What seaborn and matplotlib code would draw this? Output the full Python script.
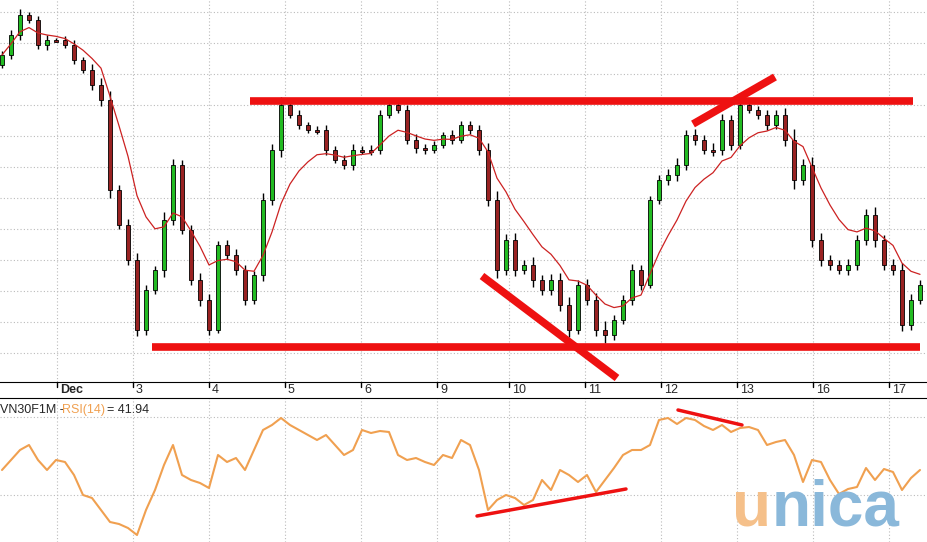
import matplotlib.pyplot as plt
import seaborn as sns
import numpy as np
import pandas as pd

# values in pixel rows (smaller = higher price)
closes = [55, 35, 15, 20, 45, 40, 40, 45, 60, 70, 85, 100, 190, 225, 260, 330, 290, 270, 220, 165,
          230, 280, 300, 330, 245, 255, 270, 300, 275, 200, 150, 105, 115, 125, 130, 130, 150, 160, 165, 150,
          150, 150, 115, 105, 110, 140, 148, 150, 145, 135, 140, 125, 130, 150, 200, 270, 240, 270, 265, 280,
          290, 280, 305, 330, 285, 300, 330, 335, 320, 300, 270, 285, 200, 180, 175, 165, 135, 140, 150, 150,
          120, 145, 105, 110, 115, 125, 115, 140, 180, 165, 240, 260, 265, 270, 265, 240, 215, 240, 265, 270,
          325, 300, 285]
wicks = [6, 8, 10, 5, 7, 9, 4, 6, 8, 5, 10, 12, 15, 8, 10, 12, 9, 7, 14, 10,
         8, 9, 12, 10, 6, 8, 10, 9, 7, 12, 10, 14, 6, 8, 5, 7, 9, 6, 8, 10,
         7, 9, 8, 6, 5, 8, 10, 7, 6, 5, 8, 6, 7, 9, 12, 15, 10, 12, 8, 14,
         9, 10, 12, 14, 8, 10, 12, 15, 9, 8, 10, 9, 6, 8, 10, 12, 9, 10, 8, 12,
         10, 9, 8, 6, 7, 9, 8, 12, 18, 10, 14, 12, 9, 8, 10, 9, 10, 14, 9, 10,
         12, 10, 8]
rsi = [470, 460, 450, 445, 460, 470, 460, 462, 475, 495, 498, 510, 522, 524, 528, 535, 510, 490, 465, 445,
       475, 480, 483, 488, 455, 462, 458, 470, 450, 430, 425, 418, 425, 430, 435, 440, 435, 445, 455, 450,
       430, 433, 431, 432, 455, 460, 458, 462, 465, 455, 458, 440, 445, 470, 510, 500, 495, 498, 505, 500,
       480, 490, 470, 475, 482, 475, 492, 480, 468, 455, 450, 450, 445, 420, 418, 424, 418, 420, 426, 430,
       425, 432, 428, 427, 430, 445, 442, 440, 455, 482, 460, 462, 480, 494, 489, 487, 468, 480, 469, 472,
       490, 478, 470]
day_labels = ["Dec", "3", "4", "5", "6", "9", "10", "11", "12", "13", "16", "17"]
day_pos = [57, 133, 209, 285, 361, 437, 509, 585, 661, 737, 813, 889]
sup_res = [((250, 101), (913, 101)), ((152, 347), (920, 347)),
           ((482, 276), (617, 378)), ((693, 124), (775, 77))]
rsi_lines = [((477, 516), (626, 489)), ((678, 410), (742, 425))]

sns.set_style("white")
plt.rcParams['font.family'] = ['Liberation Sans', 'DejaVu Sans']
fig = plt.figure(figsize=(9.27, 5.42), dpi=100)
H = 542.0
ax = fig.add_axes([0, 1 - 382 / H, 1, 382 / H])
ax2 = fig.add_axes([0, 0, 1, 144 / H])

x = 2 + 9 * np.arange(len(closes))
c = np.array(closes, float)
o = np.r_[c[0] + 10, c[:-1]]
w = np.array(wicks, float)
top = np.minimum(o, c) - w * 0.6
bot = np.maximum(o, c) + w * 0.5
ax.vlines(x, top, bot, color="black", lw=1, zorder=2)
up = c < o
cols = np.where(up, "#22bb22", "#992222")
hgt = np.where(np.abs(c - o) < 2, 2, np.abs(c - o))
ax.bar(x, hgt, bottom=np.minimum(o, c), width=4.5, color=cols, edgecolor="black", lw=0.6, zorder=3)

df = pd.DataFrame({"x": x, "ma": pd.Series(c).ewm(span=8).mean(), "rsi": rsi})
sns.lineplot(data=df, x="x", y="ma", ax=ax, color="#cc2222", lw=0.9, zorder=4)
for (a, b) in sup_res:
    ax.plot([a[0], b[0]], [a[1], b[1]], color="#ee1111", lw=5.5, solid_capstyle="butt", zorder=5)

ax.set_xlim(0, 927)
ax.set_ylim(382, 0)
ax.set_yticks(np.arange(12, 382, 31))
ax.set_xticks(day_pos)
ax.set_xticklabels([])
ax.grid(True, color="#bbbbbb", ls=(0, (1, 2)), lw=0.8)
ax.set_xlabel("")
ax.set_ylabel("")
ax.tick_params(left=False, labelleft=False)
for s in ["left", "right", "top"]:
    ax.spines[s].set_visible(False)
ax.spines["bottom"].set_color("black")

sns.lineplot(data=df, x="x", y="rsi", ax=ax2, color="#f0a050", lw=1.5)
for (a, b) in rsi_lines:
    ax2.plot([a[0], b[0]], [a[1], b[1]], color="#ee1111", lw=2.5)
ax2.set_xlim(0, 927)
ax2.set_ylim(542, 398)
ax2.set_xticks(day_pos)
ax2.set_yticks([417, 495])
ax2.grid(True, color="#bbbbbb", ls=(0, (1, 2)), lw=0.8)
ax2.tick_params(left=False, labelleft=False, bottom=False, labelbottom=False)
ax2.set_xlabel("")
ax2.set_ylabel("")
for s in ["left", "right", "bottom"]:
    ax2.spines[s].set_visible(False)
ax2.spines["top"].set_color("black")

# date labels strip between the panels
for p, lab in zip(day_pos, day_labels):
    fig.text((p + 3) / 927, 1 - 390 / H, lab, fontsize=9, va="center", ha="left",
             fontweight="bold" if lab == "Dec" else "normal")
    fig.lines.append(plt.Line2D([p / 927, p / 927], [1 - 382 / H, 1 - 387 / H], color="black", lw=1,
                                transform=fig.transFigure))
fig.text(0, 1 - 410 / H, "VN30F1M -", fontsize=9, va="center", ha="left")
fig.text(62 / 927, 1 - 410 / H, "RSI(14)", fontsize=9, va="center", ha="left", color="#f0a050")
fig.text(107 / 927, 1 - 410 / H, "= 41.94", fontsize=9, va="center", ha="left")

# watermark
fig.text(732 / 927, 1 - 508 / H, "u", fontsize=46, fontweight="bold", color="#f5c08a", va="center", ha="left")
fig.text(772 / 927, 1 - 508 / H, "nica", fontsize=46, fontweight="bold", color="#8ab8da", va="center", ha="left")

fig.savefig("out.png", dpi=100)
